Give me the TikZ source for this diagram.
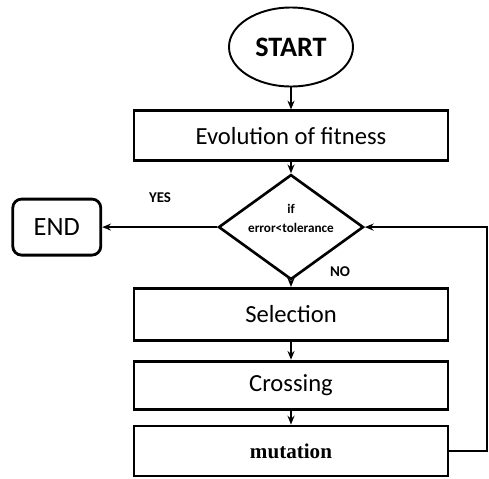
\documentclass[tikz,border=0pt]{standalone}
\usepackage{fontspec}
\setsansfont{Carlito}
\newfontfamily\mutfont{Liberation Serif}
\usetikzlibrary{arrows.meta,positioning,shapes.geometric}

\begin{document}
\begin{tikzpicture}[
            node distance=0.4cm and 2.3cm,
            font=\sffamily,
            terminal/.style={ellipse, draw, line width=1.1pt, minimum width=2.48cm, minimum height=1.58cm, inner sep=0pt, font=\sffamily\bfseries\fontsize{16}{18}\selectfont},
            process/.style={rectangle, draw, line width=1.6pt, minimum width=6.28cm, minimum height=1.0cm, inner sep=0pt, font=\sffamily\fontsize{14}{16}\selectfont},
            test/.style={diamond, draw, line width=1.5pt, aspect=1.4, minimum width=2.9cm, minimum height=2.1cm, inner sep=0pt, font=\sffamily\bfseries\fontsize{7.5}{11}\selectfont},
            stopbox/.style={rectangle, draw, rounded corners=5pt, line width=1.6pt, minimum width=1.76cm, minimum height=1.12cm, font=\sffamily\fontsize{15}{17}\selectfont},
            answer/.style={font=\sffamily\bfseries\fontsize{8.5}{10}\selectfont},
            arrow/.style={-{Stealth[length=5pt,width=4pt]}, line width=0.9pt}
        ]
            \useasboundingbox (0,0) rectangle (9.78,-9.58);

            % --- main column ---
            \node[terminal] (start) at (5.82,-0.94) {START};
            \node[process, below=0.44cm of start] (fitness) {Evolution of fitness};
            \node[test, below=0.22cm of fitness] (check) {\smash{\raisebox{-3pt}{\begin{tabular}[b]{@{}c@{}}if\\error<tolerance\end{tabular}}}};
            \node[process, below=0.12cm of check, minimum height=1.04cm] (selection) {Selection};
            \node[process, below=0.36cm of selection, minimum height=0.96cm] (crossing) {Crossing};
            \node[process, below=0.28cm of crossing] (mutation) {\mutfont\bfseries\fontsize{12}{14}\selectfont mutation};

            % --- exit ---
            \node[stopbox, left=2.3cm of check] (finish) {END};
            \node[answer] (yes) at (3.2,-3.96) {YES};
            \node[answer] (no) at (6.8,-5.44) {NO};

            % --- links ---
            \draw[arrow] (start) -- (fitness);
            \draw[arrow] (fitness) -- (check);
            \draw[arrow] (check) -- (finish);
            \draw[arrow] (check) -- (selection);
            \draw[arrow] (selection) -- (crossing);
            \draw[arrow] (crossing) -- (mutation);

            % back to the test
            \coordinate (loop) at (9.74,0 |- mutation.east);
            \draw[arrow] (mutation.east) -- (loop) |- (check.east);

        \end{tikzpicture}
\end{document}
